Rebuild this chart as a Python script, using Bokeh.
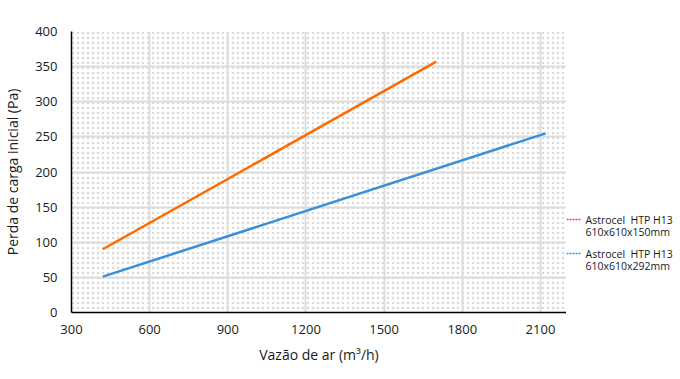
from bokeh.plotting import figure
from bokeh.layouts import row
from bokeh.models import BoxAnnotation, FixedTicker, Range1d
from bokeh.core.properties import value
from bokeh.embed import file_html
from bokeh.resources import INLINE

flow_150 = [420, 1700]
dp_150 = [90, 357]
flow_292 = [420, 2120]
dp_292 = [51, 255]
x_ticks = [300, 600, 900, 1200, 1500, 1800, 2100]
y_ticks = [0, 50, 100, 150, 200, 250, 300, 350, 400]
legend_lines_1 = ["Astrocel\u00a0\u00a0HTP H13", "610x610x150mm"]
legend_lines_2 = ["Astrocel\u00a0\u00a0HTP H13", "610x610x292mm"]
legend_colors = ["#ff3b3b", "#3a8fd8"]

FONT = "Open Sans"
TXT = "#1a1a1a"

p = figure(width=566, height=371, output_backend="svg", toolbar_location=None,
           x_range=Range1d(300, 2200), y_range=Range1d(0, 400),
           min_border_left=71, min_border_right=0, min_border_top=31, min_border_bottom=59)
p.outline_line_color = None
p.background_fill_color = "white"
p.border_fill_color = "white"

bg = BoxAnnotation(left=300, right=2200, bottom=0, top=400, fill_color="white", fill_alpha=1,
                   line_color=None, hatch_pattern="dot", hatch_color="#d8d8d8", hatch_scale=5,
                   hatch_weight=1.2, level="image")
p.add_layout(bg)

p.grid.grid_line_color = "#dcdcdc"
p.grid.grid_line_width = 2
p.xaxis.ticker = FixedTicker(ticks=x_ticks)
p.yaxis.ticker = FixedTicker(ticks=y_ticks)
for ax in (p.xaxis[0], p.yaxis[0]):
    ax.major_tick_line_color = None
    ax.minor_tick_line_color = None
    ax.major_tick_out = 0
    ax.major_tick_in = 0
    ax.minor_tick_out = 0
    ax.minor_tick_in = 0
    ax.axis_line_color = "black"
    ax.axis_line_width = 1.5
    ax.major_label_text_font = FONT
    ax.major_label_text_font_size = "13px"
    ax.major_label_text_color = TXT
    ax.axis_label_text_font = FONT
    ax.axis_label_text_font_size = "14px"
    ax.axis_label_text_font_style = "normal"
    ax.axis_label_text_color = TXT
p.xaxis.axis_label = "Vazão de ar (m³/h)"
p.yaxis.axis_label = "Perda de carga inicial (Pa)"
p.xaxis.major_label_standoff = 12
p.yaxis.major_label_standoff = 14
p.xaxis.axis_label_standoff = 8
p.yaxis.axis_label_standoff = 10

p.line(flow_150, dp_150, line_color="#ff6a00", line_width=2.5)
p.line(flow_292, dp_292, line_color="#3a8fd8", line_width=2.5)

# legend panel: small canvas to the right, frame aligned with the main plot frame
lg = figure(width=114, height=371, output_backend="svg", toolbar_location=None,
            x_range=Range1d(0, 114), y_range=Range1d(0, 281),
            min_border_left=0, min_border_right=0, min_border_top=31, min_border_bottom=59,
            x_axis_type=None, y_axis_type=None)
lg.outline_line_color = None
lg.grid.visible = False
lg.border_fill_color = "white"
lg.background_fill_color = "white"

item_y = [93, 59]
for (l1, l2), col, yy in zip([legend_lines_1, legend_lines_2], legend_colors, item_y):
    lg.line([0, 14], [yy, yy], line_color=col, line_width=1.5, line_dash="2 1")
    lg.text(x=[19, 19], y=[yy, yy - 12.5], text=[l1, l2], text_font=value(FONT),
            text_font_size="10.5px", text_color=TXT, text_baseline="middle", text_align="left")

layout = row(p, lg)
open("out.html", "w").write(file_html(layout, INLINE))
